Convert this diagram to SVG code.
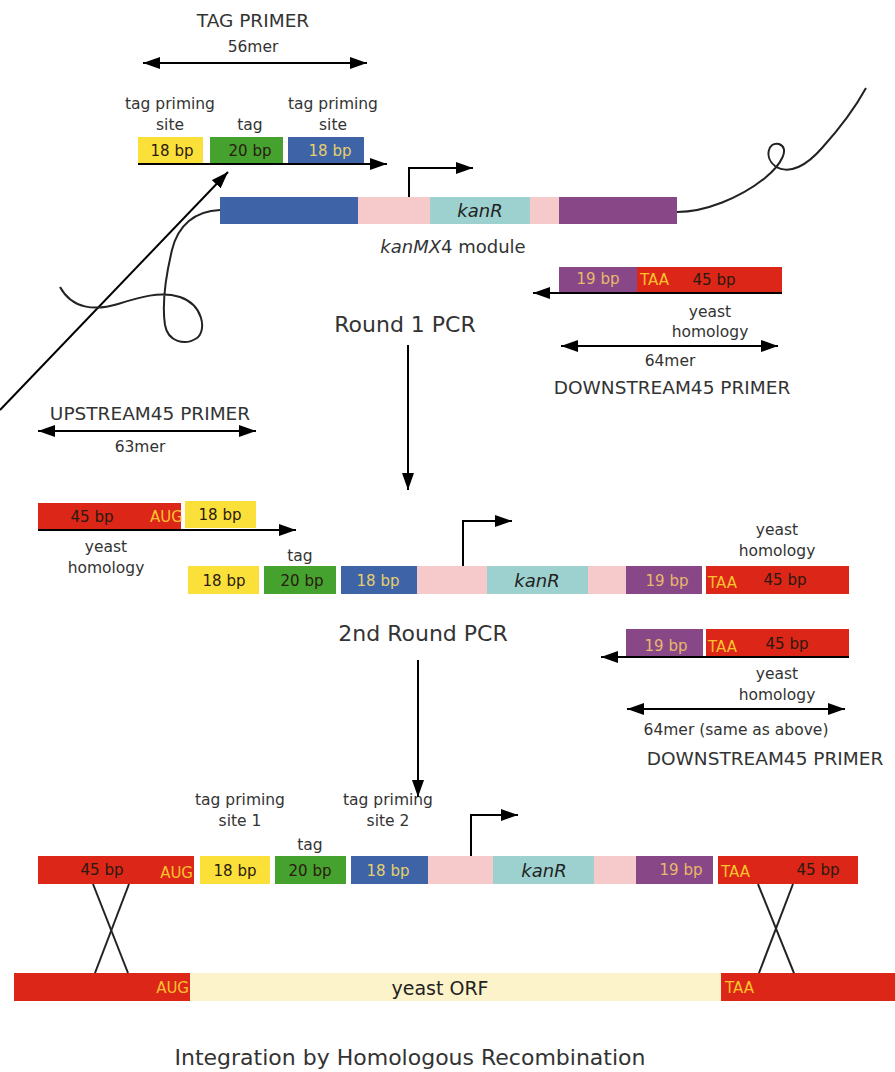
<svg xmlns="http://www.w3.org/2000/svg" width="895" height="1072" viewBox="0 0 895 1072">
<style>
text{font-family:"DejaVu Sans","Liberation Sans",sans-serif;fill:#333}
.lbl{font-size:15.5px;text-anchor:middle}
.big{font-size:18.5px;text-anchor:middle}
.hd{font-size:22px;text-anchor:middle}
.bp{font-size:15px;text-anchor:middle;fill:#2a1a10}
.bpy{font-size:15px;text-anchor:middle;fill:#e6cf6a}
.bpp{font-size:15px;text-anchor:middle;fill:#e8b86a}
.cod{font-size:15px;fill:#fcc22e}
.kan{font-size:18px;font-style:italic;text-anchor:middle;fill:#222}
.ln{stroke:#000;stroke-width:2;fill:none}
.thin{stroke:#222;stroke-width:2;fill:none}
.y{fill:#fbe03a}.g{fill:#45a22f}.b{fill:#3e64a7}.p{fill:#f6c9cb}.t{fill:#9dd1cf}.v{fill:#884888}.r{fill:#db2618}.o{fill:#fdf3cb}
</style>
<defs>
<marker id="ah" viewBox="0 0 17 12" refX="17" refY="6" markerWidth="17" markerHeight="12" markerUnits="userSpaceOnUse" orient="auto-start-reverse"><path d="M0,0 L17,6 L0,12 z" fill="#000"/></marker>
</defs>

<g id="tag-primer">
<text class="big" x="253" y="27">TAG PRIMER</text>
<text class="lbl" x="253" y="52">56mer</text>
<text class="lbl" x="170" y="109">tag priming</text>
<text class="lbl" x="170" y="130">site</text>
<text class="lbl" x="250" y="130">tag</text>
<text class="lbl" x="333" y="109">tag priming</text>
<text class="lbl" x="333" y="130">site</text>
<rect class="y" x="138" y="137" width="65" height="27"/>
<rect class="g" x="210" y="137" width="73" height="27"/>
<rect class="b" x="288" y="137" width="76" height="27"/>
<text class="bp" x="172" y="156">18 bp</text>
<text class="bp" x="250" y="156">20 bp</text>
<text class="bpy" x="330" y="156">18 bp</text>
</g>

<g id="kanmx4-module">
<rect class="b" x="220" y="197" width="138" height="27"/>
<rect class="p" x="358" y="197" width="72" height="27"/>
<rect class="t" x="430" y="197" width="100" height="27"/>
<rect class="p" x="530" y="197" width="29" height="27"/>
<rect class="v" x="559" y="197" width="118" height="27"/>
<text class="kan" x="480" y="217">kanR</text>
<text x="453" y="253" style="font-size:18px;text-anchor:middle"><tspan font-style="italic">kanMX</tspan>4 module</text>
</g>

<g id="downstream-primer-1">
<rect class="v" x="559" y="267" width="78" height="26"/>
<rect class="r" x="637" y="267" width="145" height="26"/>
<text class="bpp" x="598" y="284">19 bp</text>
<text class="cod" x="640" y="285">TAA</text>
<text class="bp" x="714" y="285">45 bp</text>
<text class="lbl" x="710" y="317">yeast</text>
<text class="lbl" x="710" y="337">homology</text>
<text class="lbl" x="670" y="366">64mer</text>
<text class="big" x="672" y="394">DOWNSTREAM45 PRIMER</text>
</g>

<g id="round1">
<text class="hd" x="405" y="332">Round 1 PCR</text>
</g>

<g id="upstream-primer">
<text class="big" x="150" y="420">UPSTREAM45 PRIMER</text>
<text class="lbl" x="140" y="452">63mer</text>
<rect class="r" x="38" y="503" width="143" height="27"/>
<rect class="y" x="185" y="501" width="71" height="27"/>
<text class="bp" x="92" y="522">45 bp</text>
<text class="cod" x="150" y="522">AUG</text>
<text class="bp" x="220" y="520">18 bp</text>
<text class="lbl" x="106" y="552">yeast</text>
<text class="lbl" x="106" y="573">homology</text>
</g>

<g id="round1-product">
<text class="lbl" x="300" y="561">tag</text>
<rect class="y" x="188" y="566" width="71" height="28"/>
<rect class="g" x="264" y="566" width="72" height="28"/>
<rect class="b" x="341" y="566" width="76" height="28"/>
<rect class="p" x="417" y="566" width="70" height="28"/>
<rect class="t" x="487" y="566" width="101" height="28"/>
<rect class="p" x="588" y="566" width="38" height="28"/>
<rect class="v" x="626" y="566" width="76" height="28"/>
<rect class="r" x="706" y="566" width="143" height="28"/>
<text class="bp" x="224" y="586">18 bp</text>
<text class="bp" x="302" y="586">20 bp</text>
<text class="bpy" x="378" y="586">18 bp</text>
<text class="kan" x="537" y="587">kanR</text>
<text class="bpp" x="667" y="586">19 bp</text>
<text class="cod" x="708" y="588">TAA</text>
<text class="bp" x="785" y="585">45 bp</text>
<text class="lbl" x="777" y="535">yeast</text>
<text class="lbl" x="777" y="556">homology</text>
</g>

<g id="round2">
<text class="hd" x="423" y="641">2nd Round PCR</text>
</g>

<g id="downstream-primer-2">
<rect class="v" x="626" y="629" width="77" height="27"/>
<rect class="r" x="706" y="629" width="143" height="27"/>
<text class="bpp" x="666" y="651">19 bp</text>
<text class="cod" x="708" y="652">TAA</text>
<text class="bp" x="787" y="649">45 bp</text>
<text class="lbl" x="777" y="679">yeast</text>
<text class="lbl" x="777" y="700">homology</text>
<text class="lbl" x="736" y="735">64mer (same as above)</text>
<text class="big" x="765" y="765">DOWNSTREAM45 PRIMER</text>
</g>

<g id="integrated-construct">
<text class="lbl" x="240" y="805">tag priming</text>
<text class="lbl" x="240" y="826">site 1</text>
<text class="lbl" x="310" y="850">tag</text>
<text class="lbl" x="388" y="805">tag priming</text>
<text class="lbl" x="388" y="826">site 2</text>
<rect class="r" x="38" y="856" width="156" height="28"/>
<rect class="y" x="200" y="856" width="70" height="28"/>
<rect class="g" x="275" y="856" width="71" height="28"/>
<rect class="b" x="351" y="856" width="77" height="28"/>
<rect class="p" x="428" y="856" width="65" height="28"/>
<rect class="t" x="493" y="856" width="101" height="28"/>
<rect class="p" x="594" y="856" width="42" height="28"/>
<rect class="v" x="636" y="856" width="77" height="28"/>
<rect class="r" x="718" y="856" width="140" height="28"/>
<text class="bp" x="102" y="875">45 bp</text>
<text class="cod" x="193" y="878" text-anchor="end">AUG</text>
<text class="bp" x="235" y="876">18 bp</text>
<text class="bp" x="310" y="876">20 bp</text>
<text class="bpy" x="388" y="876">18 bp</text>
<text class="kan" x="544" y="877">kanR</text>
<text class="bpp" x="681" y="875">19 bp</text>
<text class="cod" x="721" y="877">TAA</text>
<text class="bp" x="818" y="875">45 bp</text>
</g>

<g id="yeast-chromosome">
<rect class="r" x="14" y="973" width="176" height="28"/>
<rect class="o" x="190" y="973" width="531" height="28"/>
<rect class="r" x="721" y="973" width="174" height="28"/>
<text class="cod" x="189" y="993" text-anchor="end">AUG</text>
<text class="cod" x="725" y="993">TAA</text>
<text x="440" y="995" style="font-size:19px;text-anchor:middle;fill:#222">yeast ORF</text>
</g>

<g id="caption">
<text class="hd" x="410" y="1065">Integration by Homologous Recombination</text>
</g>

<g id="connectors">
<line class="ln" x1="143" y1="63" x2="367" y2="63" marker-start="url(#ah)" marker-end="url(#ah)"/>
<line class="ln" x1="138" y1="164" x2="387" y2="164" marker-end="url(#ah)"/>
<line class="ln" x1="0" y1="410" x2="228" y2="172" marker-end="url(#ah)"/>
<path class="ln" d="M409,197 V168 H473" marker-end="url(#ah)"/>
<path class="thin" d="M220,210 C195,211 178,225 172,250 C166,275 162,305 165,325 C168,342 185,346 197,338 C207,330 203,305 180,297 C160,291 140,297 118,304 C95,311 72,309 60,287"/>
<path class="thin" d="M677,212 C705,212 740,198 765,178 C782,164 790,148 779,144 C768,141 764,158 775,166 C790,176 808,164 822,148 C840,128 855,108 866,88"/>
<line class="ln" x1="782" y1="293" x2="533" y2="293" marker-end="url(#ah)"/>
<line class="ln" x1="561" y1="346" x2="778" y2="346" marker-start="url(#ah)" marker-end="url(#ah)"/>
<line class="ln" x1="408" y1="345" x2="408" y2="490" marker-end="url(#ah)"/>
<line class="ln" x1="38" y1="431" x2="256" y2="431" marker-start="url(#ah)" marker-end="url(#ah)"/>
<line class="ln" x1="38" y1="530" x2="296" y2="530" marker-end="url(#ah)"/>
<path class="ln" d="M463,566 V521 H512" marker-end="url(#ah)"/>
<line class="ln" x1="418" y1="660" x2="418" y2="797" marker-end="url(#ah)"/>
<line class="ln" x1="849" y1="657" x2="601" y2="657" marker-end="url(#ah)"/>
<line class="ln" x1="627" y1="709" x2="845" y2="709" marker-start="url(#ah)" marker-end="url(#ah)"/>
<path class="ln" d="M471,856 V815 H518" marker-end="url(#ah)"/>
<line class="thin" x1="93" y1="884" x2="128" y2="973"/>
<line class="thin" x1="129" y1="884" x2="95" y2="973"/>
<line class="thin" x1="758" y1="884" x2="794" y2="973"/>
<line class="thin" x1="793" y1="884" x2="759" y2="973"/>
</g>
</svg>
